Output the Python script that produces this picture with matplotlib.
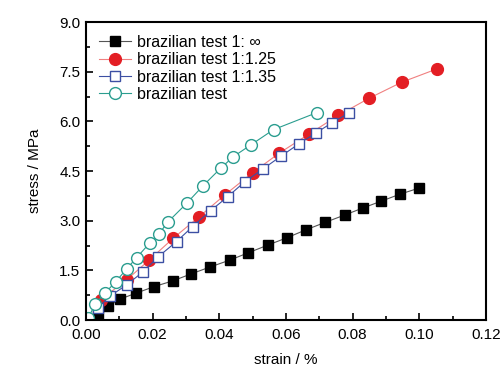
import matplotlib.pyplot as plt
from matplotlib.ticker import MultipleLocator

plt.rcParams['font.family'] = ['Liberation Sans', 'DejaVu Sans']

# ---------- Data ----------
inf_x = [0.0037, 0.0067, 0.0102, 0.015, 0.0205, 0.026, 0.0315, 0.0372, 0.0432, 0.0487,
         0.0545, 0.0602, 0.0659, 0.0718, 0.0776, 0.083, 0.0886, 0.0942, 0.0998]
inf_y = [0.15, 0.42, 0.63, 0.81, 1.01, 1.18, 1.39, 1.60, 1.81, 2.03,
         2.26, 2.48, 2.72, 2.95, 3.17, 3.38, 3.59, 3.80, 3.98]

r125_x = [0.0045, 0.0122, 0.019, 0.0262, 0.034, 0.0417, 0.050, 0.058, 0.067, 0.0757,
          0.085, 0.0947, 0.1052]
r125_y = [0.62, 1.21, 1.81, 2.47, 3.12, 3.78, 4.45, 5.04, 5.62, 6.18,
          6.70, 7.18, 7.58]

r135_x = [0.0035, 0.0072, 0.0122, 0.0172, 0.0217, 0.0272, 0.032, 0.0374, 0.0425, 0.0477,
          0.0531, 0.0584, 0.0639, 0.069, 0.0739, 0.079]
r135_y = [0.35, 0.72, 1.06, 1.46, 1.91, 2.37, 2.82, 3.30, 3.72, 4.18,
          4.56, 4.94, 5.32, 5.65, 5.96, 6.26]

bt_x = [0.0007, 0.0027, 0.0057, 0.009, 0.0122, 0.0152, 0.0192, 0.0219, 0.0247, 0.0302,
        0.0352, 0.0404, 0.0442, 0.0495, 0.0563, 0.0692]
bt_y = [0.05, 0.47, 0.81, 1.16, 1.54, 1.88, 2.33, 2.60, 2.97, 3.52,
        4.06, 4.58, 4.93, 5.29, 5.75, 6.26]

labels = ["brazilian test 1: \u221e", "brazilian test 1:1.25",
          "brazilian test 1:1.35", "brazilian test"]

# ---------- Plot ----------
fig = plt.figure(figsize=(5.02, 3.73), dpi=100)
ax = fig.add_axes([0.171, 0.142, 0.797, 0.799])

ax.plot(inf_x, inf_y, color='#555555', lw=0.8, marker='s', ms=7,
        mfc='black', mec='black', label=labels[0])
ax.plot(r125_x, r125_y, color='#f08080', lw=0.8, marker='o', ms=8.5,
        mfc='#e31e24', mec='#e31e24', label=labels[1])
ax.plot(r135_x, r135_y, color='#3c4fa3', lw=0.8, marker='s', ms=7.5,
        mfc='white', mec='#3c4fa3', mew=1.0, label=labels[2])
ax.plot(bt_x, bt_y, color='#2a9d8f', lw=0.8, marker='o', ms=8.5,
        mfc='white', mec='#2a9d8f', mew=1.0, label=labels[3])

ax.set_xlim(0, 0.12)
ax.set_ylim(0, 9.0)
ax.xaxis.set_major_locator(MultipleLocator(0.02))
ax.xaxis.set_minor_locator(MultipleLocator(0.01))
ax.yaxis.set_major_locator(MultipleLocator(1.5))
ax.yaxis.set_minor_locator(MultipleLocator(0.75))
ax.xaxis.set_major_formatter(plt.FormatStrFormatter('%.2f'))
ax.yaxis.set_major_formatter(plt.FormatStrFormatter('%.1f'))
ax.tick_params(which='both', direction='in', labelsize=11, width=1.2)
ax.tick_params(which='major', length=5)
ax.tick_params(which='minor', length=3)
ax.tick_params(axis='x', pad=6)
ax.tick_params(axis='y', pad=4)
for s in ax.spines.values():
    s.set_linewidth(1.5)

ax.set_xlabel('strain / %', fontsize=11, labelpad=8)
ax.set_ylabel('stress / MPa', fontsize=11, labelpad=12)

ax.legend(loc='upper left', frameon=False, fontsize=11.5, handlelength=2.0,
          handletextpad=0.4, labelspacing=0.15, borderaxespad=0.4)

plt.savefig('out.png', dpi=100)
